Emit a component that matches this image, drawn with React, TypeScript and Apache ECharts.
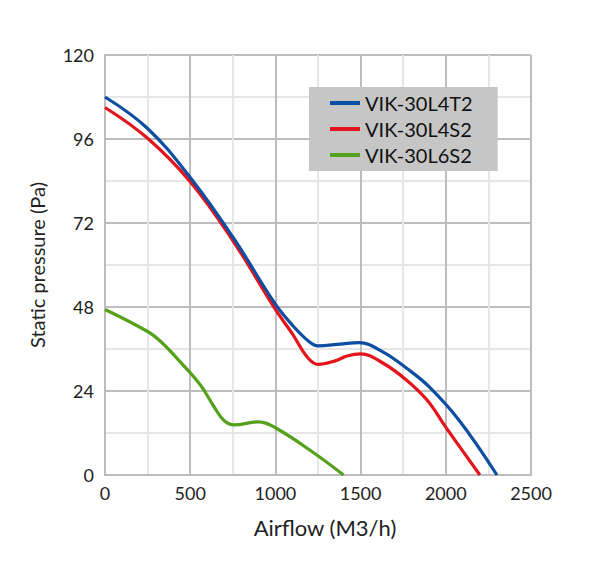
import * as echarts from 'echarts';
import { useEffect, useRef } from 'react';

const seriesNames = ['VIK-30L4T2', 'VIK-30L4S2', 'VIK-30L6S2'];
const seriesColors = ['#0b4ea2', '#e3141b', '#55a11c'];

// VIK-30L4T2
const blueX = [0, 250, 500, 750, 1000, 1100, 1200, 1250, 1380, 1490, 1630, 1770, 1900, 2080, 2300];
const blueY = [108, 99, 85, 68, 48.8, 42.8, 38, 36.9, 37.4, 37.8, 35.2, 30.5, 25.3, 15.5, 0];

// VIK-30L4S2
const redX = [0, 250, 500, 750, 1000, 1100, 1190, 1250, 1350, 1420, 1500, 1630, 1770, 1890, 2005, 2200];
const redY = [105, 96.2, 83.8, 67, 47.3, 40.3, 33.5, 31.6, 32.6, 34, 34.6, 32, 27.1, 21.4, 13.3, 0];

// VIK-30L6S2
const greenX = [0, 250, 330, 440, 560, 640, 700, 760, 900, 1000, 1220, 1400];
const greenY = [47.3, 41, 38, 32.4, 25.7, 19.5, 15.5, 14.3, 15.2, 13.5, 6.5, 0];

const xTicks = [0, 500, 1000, 1500, 2000, 2500];
const yTicks = [0, 24, 48, 72, 96, 120];

const pairs = (xs: number[], ys: number[]) => xs.map((x, i) => [x, ys[i]]);

const FONT = 'Lato, "Open Sans", sans-serif';

const App = () => {
    const divRef = useRef<HTMLDivElement>(null);

    useEffect(() => {
        const chart = echarts.init(divRef.current!, undefined, { renderer: 'svg' });
        const data = [pairs(blueX, blueY), pairs(redX, redY), pairs(greenX, greenY)];

        chart.setOption({
            animation: false,
            backgroundColor: '#ffffff',
            textStyle: { fontFamily: FONT },
            grid: { left: 105, right: 68, top: 55, bottom: 94 },
            legend: {
                orient: 'vertical',
                left: 309,
                top: 87,
                backgroundColor: '#c6c6c6',
                padding: [6, 25, 6, 21],
                itemGap: 6,
                itemWidth: 30,
                itemHeight: 4,
                itemTextGap: 8,
                icon: 'rect',
                textStyle: { fontSize: 20, color: '#111', fontFamily: FONT },
                data: seriesNames
            },
            xAxis: {
                type: 'value',
                min: xTicks[0],
                max: xTicks[xTicks.length - 1],
                interval: 500,
                name: 'Airflow (M3/h)',
                nameLocation: 'middle',
                nameGap: 41,
                nameTextStyle: {
                    fontSize: 22,
                    color: '#222',
                    fontFamily: FONT,
                    padding: [0, 0, 0, 14]
                },
                axisLine: { show: true, lineStyle: { color: '#bdbdbd', width: 2 } },
                axisTick: { show: false },
                axisLabel: {
                    fontSize: 18,
                    color: '#222',
                    margin: 9,
                    fontFamily: FONT,
                    formatter: (v: number) => String(v)
                },
                splitLine: { show: true, lineStyle: { color: '#bdbdbd', width: 2 } },
                minorSplitLine: { show: true, lineStyle: { color: '#e6e6e6', width: 2 } },
                minorTick: { show: false, splitNumber: 2 }
            },
            yAxis: {
                type: 'value',
                min: yTicks[0],
                max: yTicks[yTicks.length - 1],
                interval: 24,
                name: 'Static pressure (Pa)',
                nameLocation: 'middle',
                nameGap: 58,
                nameTextStyle: { fontSize: 20, color: '#222', fontFamily: FONT },
                axisLine: { show: true, lineStyle: { color: '#bdbdbd', width: 2 } },
                axisTick: { show: false },
                axisLabel: { fontSize: 18, color: '#222', margin: 11, fontFamily: FONT },
                splitLine: { show: true, lineStyle: { color: '#bdbdbd', width: 2 } },
                minorSplitLine: { show: true, lineStyle: { color: '#e6e6e6', width: 2 } },
                minorTick: { show: false, splitNumber: 2 }
            },
            series: seriesNames.map((name, i) => ({
                name,
                type: 'line',
                smooth: 0.4,
                showSymbol: false,
                symbol: 'none',
                data: data[i],
                lineStyle: { color: seriesColors[i], width: 3.2 },
                itemStyle: { color: seriesColors[i] },
                z: 3 - i
            }))
        });

        return () => {
            chart.dispose();
        };
    }, []);

    return (
        <div
            ref={divRef}
            style={{ position: 'fixed', left: 0, top: 0, width: '599px', height: '569px' }}
        ></div>
    );
};

export default App;
